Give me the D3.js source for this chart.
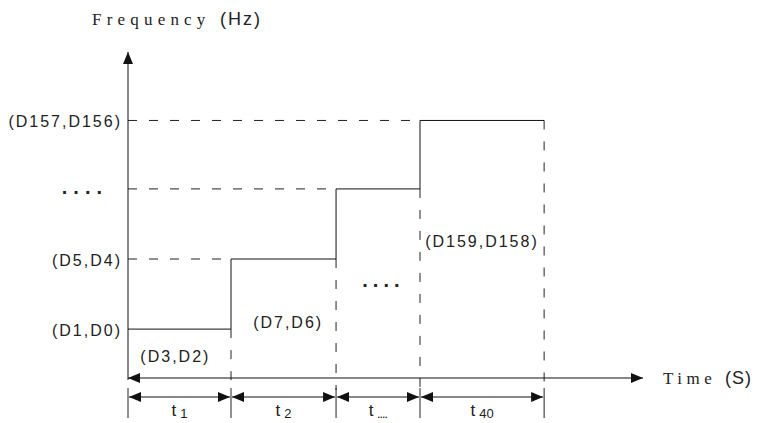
<!DOCTYPE html>
<html>
<head>
<meta charset="utf-8">
<script src="https://cdn.jsdelivr.net/npm/d3@7"></script>
<style>
  body { margin: 0; background: #fff; }
  text { font-family: "Liberation Sans", Arial, sans-serif; fill: #222; }
</style>
</head>
<body>
<div id="chart"></div>
<script>
// step boundaries on the time axis (arbitrary units)
var stepTimes = [0, 2, 4.04, 5.67, 8.08];
// frequency level of each step
var stepLevels = [1.5, 3.65, 5.8, 7.9];
var levelLabels = ["(D1,D0)", "(D5,D4)", "....", "(D157,D156)"];
var segmentLabels = ["t", "t", "t", "t"];
var segmentSubs = ["1", "2", "....", "40"];
var timeLabels = ["(D3,D2)", "(D7,D6)", "....", "(D159,D158)"];

var width = 757,
    height = 423;

var svg = d3.select("#chart").append("svg").attr("width", width).attr("height", height);

var x = d3.scaleLinear().domain([0, 10]).range([128, 643]);
var y = d3.scaleLinear().domain([0, 10]).range([378, 52]);

var defs = svg.append("defs");
function marker(id, orient) {
    defs.append("marker")
        .attr("id", id)
        .attr("viewBox", "0 0 12 10")
        .attr("refX", 12).attr("refY", 5)
        .attr("markerWidth", 12).attr("markerHeight", 10)
        .attr("markerUnits", "userSpaceOnUse")
        .attr("orient", orient)
        .append("path").attr("d", "M0,0L12,5L0,10Z").attr("fill", "#111");
}
marker("arrow", "auto");
marker("arrowStart", "auto-start-reverse");

var y0 = y(0);

// dashed guides
var dash = "9,12";
var g = svg.append("g").attr("stroke", "#222").attr("stroke-width", 1).attr("fill", "none");

stepLevels.forEach(function (lv, i) {
    if (i == 0) return;
    g.append("line")
        .attr("x1", x(0)).attr("x2", x(stepTimes[i]))
        .attr("y1", y(lv)).attr("y2", y(lv))
        .attr("stroke-dasharray", dash);
});
stepTimes.forEach(function (t, i) {
    if (i == 0) return;
    var lv = stepLevels[Math.min(i, stepLevels.length) - 1];
    g.append("line")
        .attr("x1", x(t)).attr("x2", x(t))
        .attr("y1", y(lv)).attr("y2", y0 + 12)
        .attr("stroke-dasharray", dash);
    // solid tick for the dimension row
    g.append("line")
        .attr("x1", x(t)).attr("x2", x(t))
        .attr("y1", y0 + 10).attr("y2", y0 + 40);
});
g.append("line")
    .attr("x1", x(0)).attr("x2", x(0))
    .attr("y1", y0 + 10).attr("y2", y0 + 40);

// step line
var pts = [];
stepLevels.forEach(function (lv, i) {
    pts.push([stepTimes[i], lv]);
    pts.push([stepTimes[i + 1], lv]);
});
var line = d3.line().x(d => x(d[0])).y(d => y(d[1]));
g.append("path").attr("d", line(pts)).attr("stroke", "#111");

// axes
g.append("line")
    .attr("x1", x(0)).attr("x2", x(0))
    .attr("y1", y0 + 2).attr("y2", y(10))
    .attr("stroke", "#111")
    .attr("marker-end", "url(#arrow)");
g.append("line")
    .attr("x1", x(0)).attr("x2", x(10))
    .attr("y1", y0).attr("y2", y0)
    .attr("stroke", "#111")
    .attr("marker-start", "url(#arrowStart)")
    .attr("marker-end", "url(#arrow)");

// dimension arrows
var dimY = y0 + 19;
stepTimes.slice(1).forEach(function (t, i) {
    g.append("line")
        .attr("x1", x(stepTimes[i]) + 1).attr("x2", x(t) - 1)
        .attr("y1", dimY).attr("y2", dimY)
        .attr("stroke", "#111")
        .attr("marker-start", "url(#arrowStart)")
        .attr("marker-end", "url(#arrow)");
    var tx = svg.append("text")
        .attr("x", (x(stepTimes[i]) + x(t)) / 2)
        .attr("y", dimY + 19)
        .attr("text-anchor", "middle")
        .style("font-size", "17px");
    tx.append("tspan").text(segmentLabels[i]);
    tx.append("tspan").attr("dx", 4).attr("dy", 2)
        .style("font-size", segmentSubs[i] == "...." ? "9px" : "13px")
        .style("font-weight", segmentSubs[i] == "...." ? "bold" : "normal")
        .text(segmentSubs[i]);
});

// level labels on the y axis
stepLevels.forEach(function (lv, i) {
    var dots = levelLabels[i] == "....";
    svg.append("text")
        .attr("x", x(0) - (dots ? 20 : 6))
        .attr("y", y(lv) + (dots ? -2 : 1))
        .attr("dy", "0.35em")
        .attr("text-anchor", "end")
        .style("font-size", dots ? "20px" : "16px")
        .style("font-weight", dots ? "bold" : "normal")
        .style("letter-spacing", dots ? "6px" : "2px")
        .text(levelLabels[i]);
});

// labels inside the time segments
var timeLabelPos = [[0.24, 0.65], [2.43, 1.7], [4.55, 3.0], [5.77, 4.2]];
timeLabels.forEach(function (s, i) {
    var dots = s == "....";
    svg.append("text")
        .attr("x", x(timeLabelPos[i][0]))
        .attr("y", y(timeLabelPos[i][1]))
        .attr("dy", "0.35em")
        .style("font-size", dots ? "20px" : "16px")
        .style("font-weight", dots ? "bold" : "normal")
        .style("letter-spacing", dots ? "5px" : "2px")
        .text(s);
});

// axis titles
var ft = svg.append("text").attr("x", 92).attr("y", 25);
ft.append("tspan")
    .style("font-family", "'Liberation Serif', serif")
    .style("font-size", "17px")
    .style("letter-spacing", "5.2px")
    .text("Frequency ");
ft.append("tspan").style("font-size", "18px").style("letter-spacing", "2px").text("(Hz)");

var tt = svg.append("text").attr("x", 663).attr("y", y0).attr("dy", "0.35em");
tt.append("tspan")
    .style("font-family", "'Liberation Serif', serif")
    .style("font-size", "17px")
    .style("letter-spacing", "4.5px")
    .text("Time ");
tt.append("tspan").style("font-size", "18px").style("letter-spacing", "1px").text("(S)");
</script>
</body>
</html>
